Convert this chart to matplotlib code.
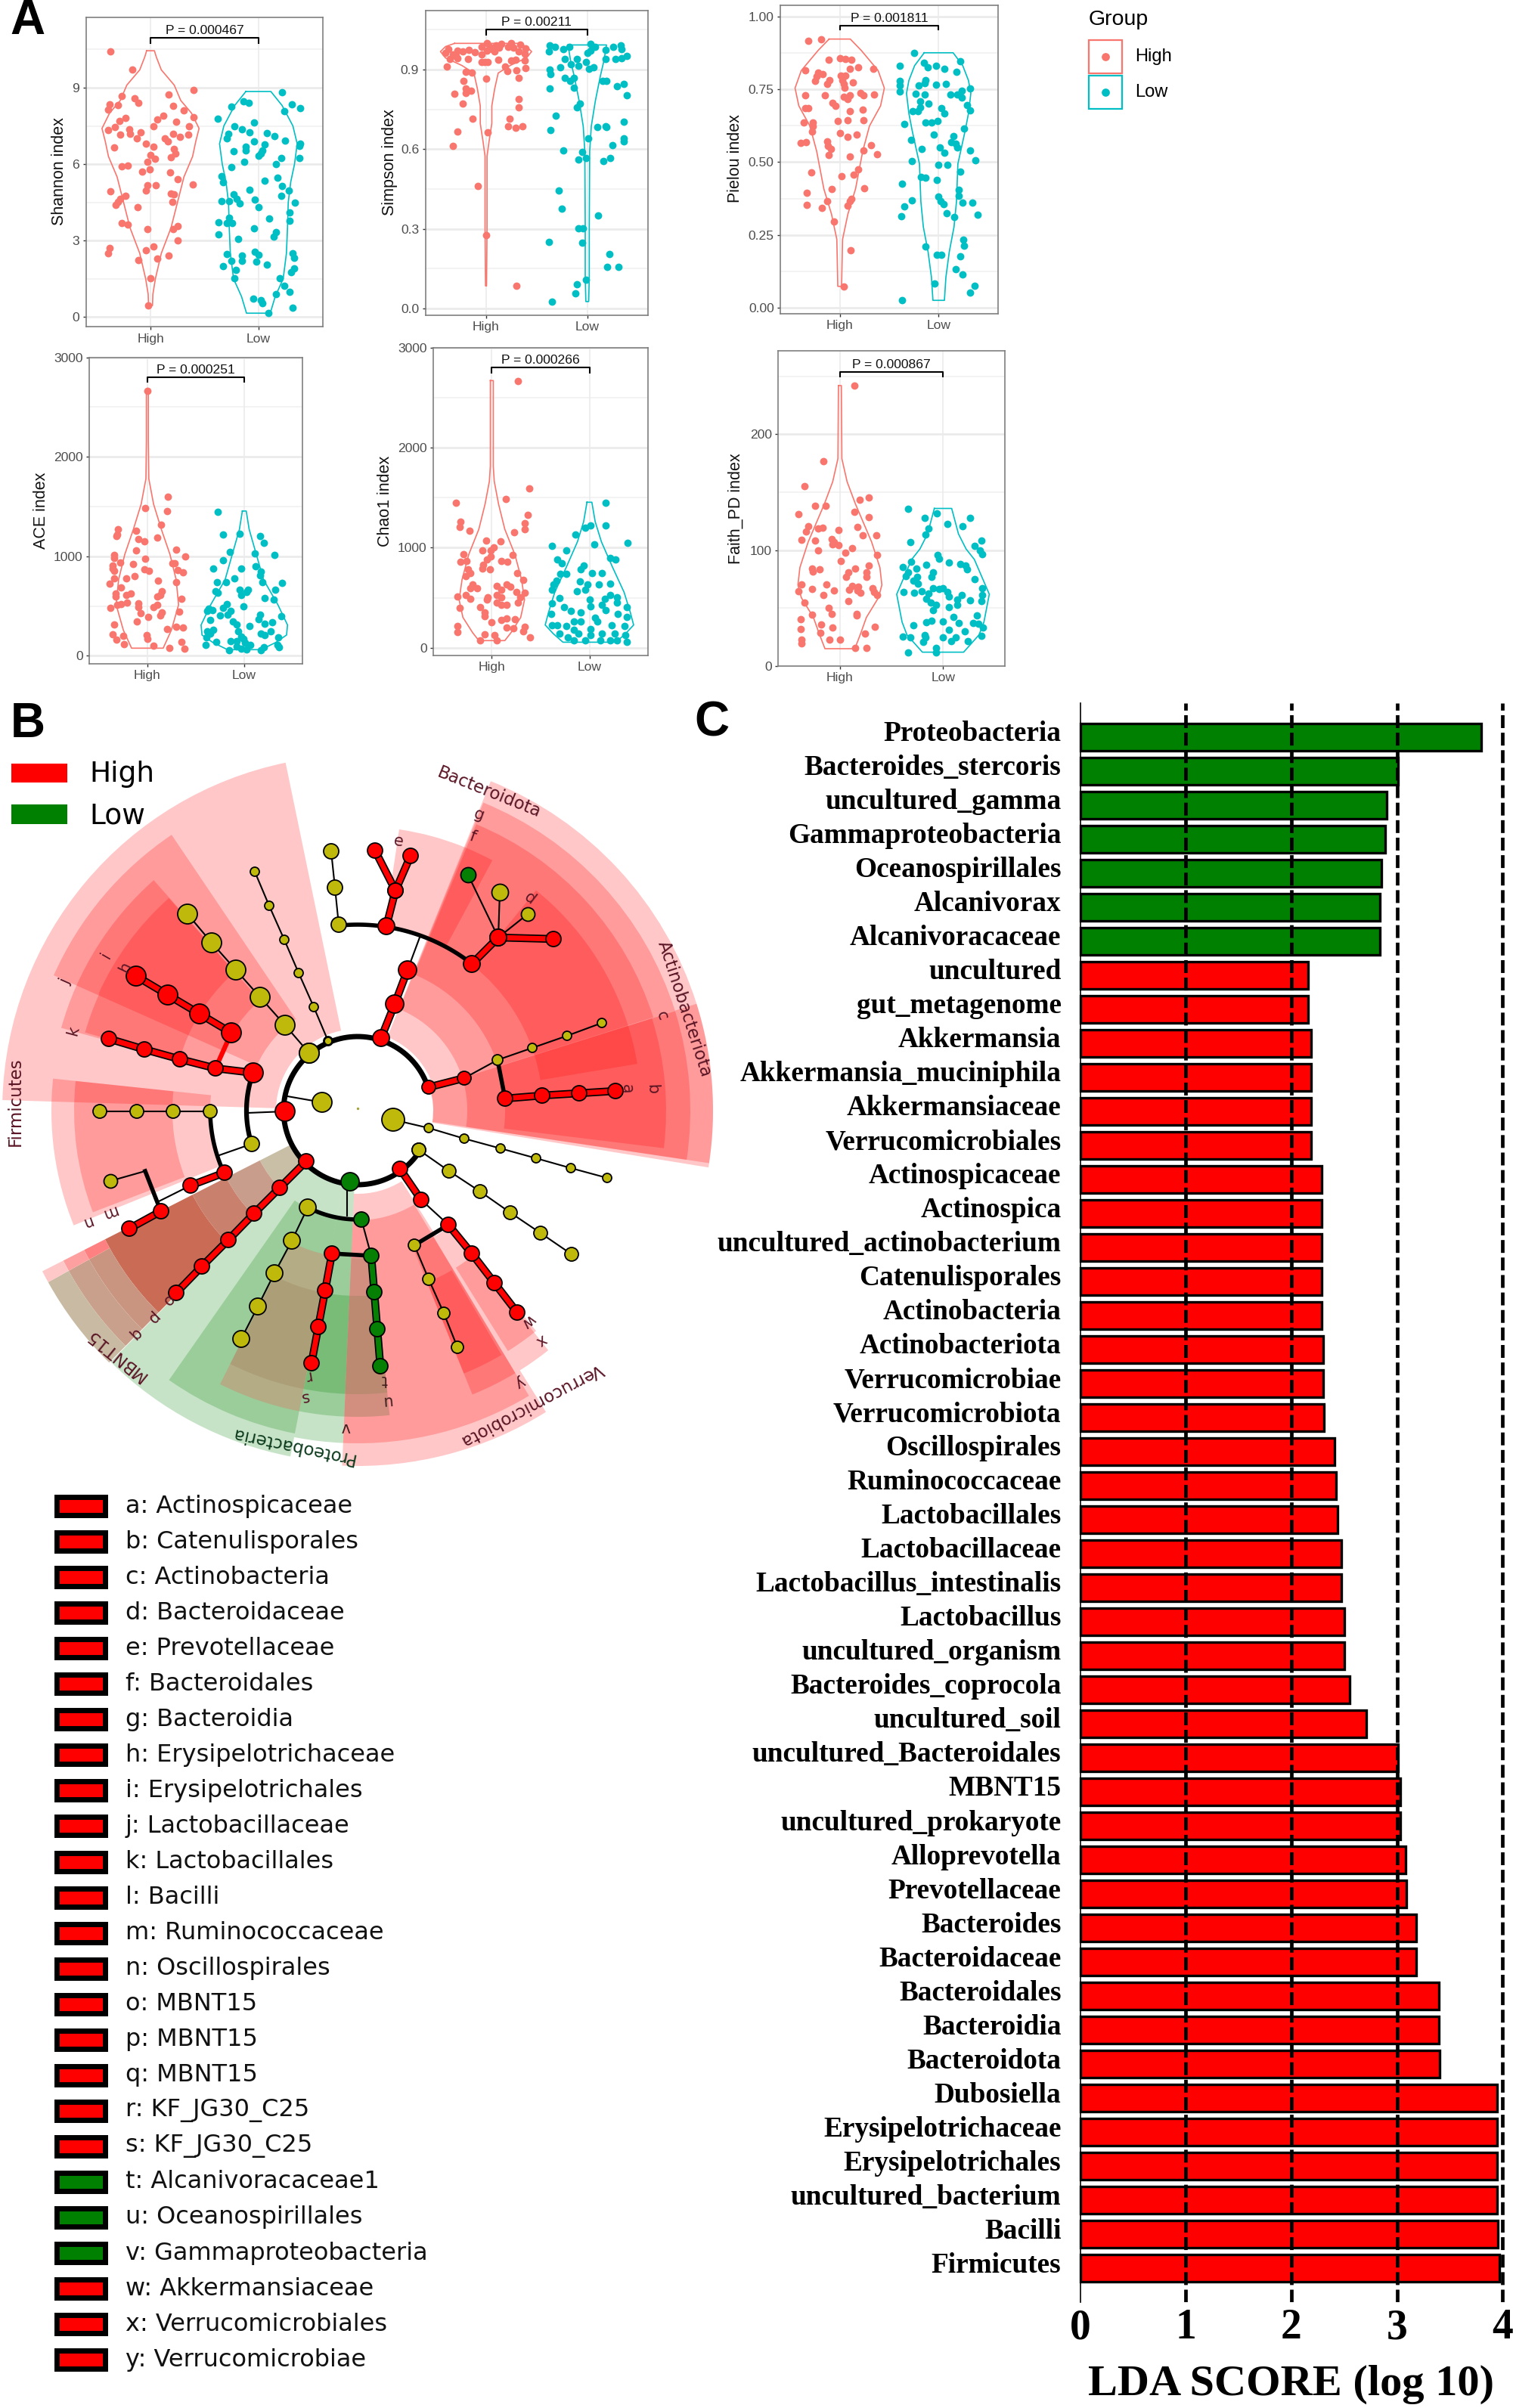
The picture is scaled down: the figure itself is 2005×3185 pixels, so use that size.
import numpy as np
import matplotlib
matplotlib.use('Agg')
import matplotlib.pyplot as plt
from matplotlib.patches import Wedge, Rectangle

W, H = 2005, 3185
C_HIGH, C_LOW = '#F8766D', '#00BFC4'

# ── A. alpha diversity points: x = jittered group position, y = index value ──
shannon_high_x = [.63,.83,1.40,.73,1.17,.85,.89,.62,.70,.61,1.21,1.31,1.40,1.12,.77,1.06,.71,1.24,1.03,1.36,.61,.67,.80,.91,.81,.72,1.21,1.35,1.27,.87,1.13,1.16,.96,1.03,.66,1.22,1.23,1.00,1.19,1.04,.97,.73,.79,.99,.92,1.18,1.25,1.39,1.05,.97,.96,.63,1.19,1.22,.77,.72,.70,.68,1.20,.88,.73,.79,.97,1.25,1.21,1.25,1.03,.96,.62,.61,1.17,1.06,.89,1.00,.98]
shannon_high_y = [10.42,9.70,8.92,8.68,8.72,8.57,8.41,8.36,8.33,8.14,8.28,8.11,7.84,7.90,7.82,7.76,7.70,7.67,7.50,7.50,7.35,7.45,7.38,7.24,7.20,7.17,7.20,7.16,7.07,7.00,7.02,6.88,6.80,6.69,6.67,6.59,6.43,6.36,6.26,6.21,6.08,5.92,5.93,5.79,5.70,5.68,5.40,5.21,5.18,5.18,4.96,4.93,4.85,4.82,4.77,4.63,4.53,4.41,4.53,4.31,3.69,3.64,3.45,3.56,3.44,3.00,2.78,2.61,2.70,2.51,2.42,2.28,2.22,1.51,.45]
shannon_low_x = [2.22,1.86,1.91,1.75,2.31,2.39,2.24,1.62,1.96,1.78,1.85,1.92,1.72,2.08,2.15,1.71,1.96,2.25,2.39,2.06,1.88,2.38,1.77,1.88,2.04,2.02,2.00,2.21,2.38,1.87,2.16,1.75,1.66,1.67,2.06,2.18,2.22,1.92,2.28,1.77,2.21,1.80,1.66,1.73,1.97,1.83,2.34,2.00,2.29,2.10,1.73,2.29,1.63,1.76,1.71,1.96,1.63,2.16,2.14,1.81,1.71,1.97,2.00,1.85,2.32,2.33,1.75,1.85,1.98,2.08,1.67,2.33,1.79,2.30,1.78,2.20,2.24,2.29,2.16,1.95,2.02,2.04,2.32,2.09]
shannon_low_y = [8.83,8.46,8.41,8.27,8.34,8.19,8.08,7.79,7.63,7.50,7.38,7.25,7.20,7.23,7.10,7.02,6.88,6.92,6.80,6.76,6.69,6.71,6.51,6.53,6.53,6.41,6.33,6.23,6.24,6.09,6.01,5.87,5.54,5.30,5.34,5.47,5.15,5.00,4.96,4.83,4.75,4.65,4.55,4.55,4.60,4.45,4.49,4.31,4.10,3.87,3.89,3.77,3.71,3.69,3.69,3.47,3.23,3.32,3.16,3.06,2.48,2.57,2.45,2.42,2.50,2.32,2.21,2.19,2.16,2.06,2.01,1.90,1.86,1.75,1.53,1.53,1.24,1.00,.91,.72,.67,.54,.37,.15]

simpson_high_x = [1.01,1.15,1.25,1.34,1.10,1.04,.96,.83,.72,.63,.60,.67,.70,.77,.89,1.01,1.06,1.13,1.22,1.27,1.39,1.32,1.38,.64,.72,.82,.96,1.02,1.12,1.25,1.29,1.38,.96,1.08,.61,1.19,.99,1.39,1.30,.80,.86,1.21,1.32,1.00,.78,.80,.85,.80,.69,1.32,.77,1.32,1.23,.87,1.22,1.29,1.36,.72,1.02,.67,.92,1.00,1.30]
simpson_high_y = [.999,.996,.999,.993,.991,.987,.987,.975,.972,.977,.963,.958,.952,.968,.966,.972,.977,.982,.987,.982,.980,.968,.960,.939,.942,.939,.930,.928,.938,.934,.936,.934,.958,.968,.912,.913,.930,.906,.898,.892,.890,.895,.870,.865,.857,.828,.821,.811,.808,.789,.771,.758,.716,.714,.688,.680,.686,.667,.664,.613,.462,.275,.085]
simpson_low_x = [1.63,1.68,1.62,1.76,1.82,2.03,2.08,2.26,2.33,2.34,2.18,2.00,2.03,2.39,2.34,2.28,2.18,1.78,1.90,1.99,1.84,1.91,2.06,2.02,1.73,1.63,1.64,1.78,1.87,1.83,2.15,2.19,2.36,2.29,1.63,1.87,2.39,1.93,1.90,1.69,2.36,2.18,2.10,2.19,1.64,2.01,2.36,2.36,2.25,1.76,1.95,1.99,1.91,2.23,2.16,1.72,1.75,2.11,1.91,1.96,1.62,1.95,2.22,2.20,2.31,1.99,1.90,1.88,1.65]
simpson_low_y = [.991,.987,.968,.977,.987,.996,.987,.987,.991,.977,.975,.963,.972,.952,.942,.939,.939,.939,.939,.930,.920,.915,.908,.904,.908,.901,.882,.868,.868,.858,.857,.858,.847,.838,.830,.833,.803,.773,.757,.726,.705,.688,.683,.683,.672,.642,.640,.629,.616,.595,.589,.567,.560,.566,.556,.445,.376,.349,.303,.302,.250,.248,.205,.157,.157,.107,.092,.058,.027]

pielou_high_x = [.68,.81,.89,1.00,1.06,1.12,1.19,1.34,.65,1.10,.78,.83,.77,.75,.90,.87,1.01,1.06,1.03,1.13,1.04,1.05,1.21,1.24,1.35,.65,.85,1.04,1.10,1.08,.93,.96,.65,.68,1.10,1.23,.64,.73,.98,1.08,1.24,.73,.72,1.00,1.17,1.08,.87,.61,.66,.88,.91,1.32,1.24,.89,1.38,1.10,.71,1.19,1.14,1.02,.92,1.25,.67,1.12,1.10,.87,.67,1.08,.82,.94,1.11,1.04]
pielou_high_y = [.916,.922,.850,.855,.853,.851,.825,.820,.814,.820,.806,.801,.793,.778,.781,.769,.797,.797,.780,.773,.767,.755,.738,.729,.733,.729,.729,.723,.728,.717,.704,.693,.685,.684,.676,.679,.637,.635,.640,.644,.643,.624,.605,.600,.594,.586,.572,.566,.568,.555,.546,.557,.540,.525,.526,.518,.466,.474,.458,.453,.408,.411,.395,.373,.365,.365,.353,.352,.343,.297,.198,.074]
pielou_low_x = [1.75,2.22,1.85,1.61,1.89,1.97,2.06,2.18,1.61,1.87,1.86,1.80,1.97,2.07,1.61,1.61,2.32,2.23,1.77,1.86,2.12,2.19,2.23,1.81,1.90,2.29,2.03,1.81,1.74,1.79,2.32,2.06,1.87,1.93,1.99,1.65,2.26,1.95,2.15,1.72,2.13,2.17,2.19,2.01,1.83,2.32,2.06,2.37,1.73,2.00,2.09,2.22,1.82,1.87,1.98,1.63,2.20,2.20,2.00,2.02,2.05,1.73,2.24,2.34,1.65,2.08,2.39,1.62,2.16,2.25,2.26,1.87,1.98,2.03,2.22,2.17,2.24,1.96,2.36,2.32,1.63]
pielou_low_y = [.875,.847,.840,.830,.825,.830,.820,.810,.778,.781,.771,.762,.765,.767,.762,.743,.752,.745,.735,.732,.733,.731,.721,.708,.700,.696,.685,.689,.676,.676,.678,.666,.635,.637,.641,.631,.614,.595,.589,.576,.568,.564,.551,.550,.546,.540,.532,.507,.503,.490,.491,.468,.449,.447,.440,.425,.404,.385,.382,.365,.356,.368,.362,.360,.347,.326,.320,.315,.313,.233,.213,.211,.181,.183,.177,.134,.116,.083,.077,.053,.027]

ace_high_x = [1.00,1.21,.98,1.20,1.14,.70,.88,.69,.68,1.10,.91,.97,.88,1.30,.66,.66,1.39,.98,.72,1.28,1.26,.85,.64,.64,.66,.97,1.02,1.31,1.37,.78,.87,.66,1.11,.61,1.30,.73,1.15,.67,.83,.78,.67,1.13,1.10,1.35,.73,.79,.69,.91,.91,1.10,1.06,.62,1.33,1.15,.93,1.13,1.01,.89,.66,1.20,1.30,1.37,.64,.75,.99,.68,1.00,.76,1.06,1.35,1.23,1.38]
ace_high_y = [2663,1596,1487,1452,1320,1272,1254,1221,1201,1188,1171,1150,1062,1067,1016,981,998,978,935,933,930,925,905,879,854,872,856,862,839,778,803,778,755,727,740,689,646,626,626,613,595,613,593,575,519,532,512,525,492,512,492,479,446,436,426,403,393,342,314,266,291,284,215,200,208,162,170,119,101,137,76,73]
ace_low_x = [1.73,1.78,1.95,2.16,2.20,1.85,2.11,2.31,1.78,1.68,1.97,2.12,2.17,1.90,2.16,1.81,1.72,2.19,2.39,2.32,1.70,1.73,1.95,2.04,2.02,1.97,2.21,2.30,1.99,1.63,1.67,1.82,1.78,1.86,1.62,1.75,1.83,2.16,2.38,1.65,1.88,1.92,2.15,2.21,2.29,2.05,1.62,1.68,1.65,1.94,2.27,2.17,2.21,1.61,1.97,1.86,1.71,1.92,1.99,2.01,2.06,2.35,1.60,2.34,2.20,2.36,1.84,1.97,2.02,2.17,1.92]
ace_low_y = [1447,1216,1224,1201,1133,1044,1026,1011,963,879,879,902,846,778,808,740,740,740,735,664,651,631,664,664,639,613,583,563,499,474,461,517,479,449,449,403,410,410,398,360,347,314,365,322,334,296,246,258,220,246,246,220,208,182,195,144,137,144,170,132,111,188,111,106,86,86,56,68,61,56,94]

chao_high_x = [1.27,1.38,.63,1.14,1.37,1.34,.68,.67,1.34,.77,1.23,1.09,.94,1.02,.90,.99,.71,1.21,.99,.95,.68,.74,1.10,1.16,.91,.90,.98,.76,.78,1.26,.73,1.32,.80,1.05,1.15,1.19,.78,.85,1.10,1.25,1.34,1.05,.65,.73,.96,1.10,1.29,.78,.95,1.05,1.27,1.15,.88,.67,.93,1.10,.93,1.15,1.24,1.10,1.00,.65,1.15,1.34,1.22,.65,1.32,.93,1.03,1.39,.88,1.05]
chao_high_y = [2665,1596,1452,1487,1326,1248,1261,1210,1185,1170,1152,1066,1071,1003,976,971,935,928,913,882,857,870,865,862,832,794,787,781,744,744,718,681,630,618,635,610,592,592,580,555,547,529,512,529,504,504,504,492,479,454,454,429,408,396,353,429,315,290,285,277,257,214,202,209,194,159,164,134,126,101,76,76]
chao_low_x = [2.17,2.17,2.01,1.96,1.86,2.39,1.62,2.05,1.76,1.67,2.21,2.27,1.72,1.94,1.91,1.70,1.76,2.03,2.13,1.90,1.66,1.63,2.21,2.10,1.98,1.96,1.62,1.87,2.21,2.00,2.16,2.28,1.69,1.62,2.28,2.01,2.13,2.38,1.74,2.17,2.29,1.61,1.81,1.91,2.06,2.38,1.62,1.67,1.84,1.91,2.08,2.23,2.36,1.76,1.84,2.01,1.69,1.89,2.13,2.26,2.37,1.78,2.01,1.84,1.96,2.11,2.28,2.38,2.21]
chao_low_y = [1450,1223,1223,1197,1134,1046,1016,1034,971,882,895,882,845,819,781,736,736,744,744,660,668,635,643,635,635,580,580,567,529,479,492,504,499,446,454,416,429,403,403,378,340,340,366,353,303,308,227,227,265,265,265,227,214,214,176,189,139,139,139,139,126,101,126,76,76,76,76,55,76]

faith_high_x = [1.14,.84,.66,1.28,1.19,.86,.76,.60,1.14,1.28,.69,.83,.79,.67,.99,1.17,1.22,1.35,.63,.76,.92,.94,.93,.99,1.12,.79,1.05,1.36,1.01,1.28,.73,.80,.74,1.15,1.08,1.26,1.06,1.26,.63,.87,.73,1.12,1.18,1.32,.60,.94,1.09,1.17,1.33,.84,1.20,1.36,.66,1.08,.89,.92,1.16,1.16,.73,.62,.82,.93,.62,1.34,.81,1.24,.90,1.00,.63,.63,1.15,1.26]
faith_high_y = [241.7,176.5,155.4,145.4,143.7,138.3,138,130.9,132.8,128.5,120.9,119.1,118.5,116.3,117.6,119.8,112.6,112.6,108.7,108,109.4,107.2,105,104.6,102,99.8,98,96.1,90.9,86.5,84.4,83.7,81.5,84.4,80.7,81.1,77.2,76.7,70.2,70.2,66.3,69.1,68.5,67,64.8,65.4,65.9,65.4,63.7,61.1,63.3,61.1,54.6,55.9,50,44.8,45.2,43.5,44.1,40.2,35.9,33.3,32,33.9,28.5,28.3,23,23,23,19.6,15.9,15.4]
faith_low_x = [1.66,1.94,1.82,2.26,2.04,2.19,1.86,1.83,2.37,1.68,2.31,2.36,2.38,1.95,1.96,2.06,1.69,1.84,2.17,2.22,1.61,1.74,2.23,1.66,1.90,1.64,1.75,1.89,2.31,1.71,1.76,1.90,1.96,2.00,2.38,1.62,1.79,1.72,1.86,2.04,2.06,2.18,2.38,1.84,2.14,2.26,2.37,1.88,1.93,2.14,2.06,1.90,2.33,2.10,1.89,1.84,2.00,2.15,2.29,2.34,1.71,2.39,2.06,2.21,1.82,1.61,1.68,1.83,2.00,2.12,2.37,1.81,2.08,2.24,1.93,1.66,1.93]
faith_low_y = [135.4,131.5,128,127.6,122.8,120.7,118.5,113.3,108,106.7,103.9,99.6,96.3,95.7,92.4,89.4,89.8,87.6,88.3,87,85.4,84.4,83.3,81.1,80.7,77.8,76.7,76.7,75,73.5,71.3,67,66.3,67,67,64.1,64.6,63,62.6,63.7,59.8,61.1,61.1,58.3,57.2,56.7,56.1,55,52.8,52.8,50.7,48,43.7,42.4,39.3,37.6,38.7,37.2,37.2,36.5,35.4,33.3,31.5,30,26.7,25.2,25,24.6,25,25,26.1,20.7,21.3,21.3,15.9,12,12]

# violin outlines: level and half width in group units
shannon_high_vy = [10.45,10.2,9.7,9.1,8.5,8.0,7.4,6.9,6.3,5.5,4.5,3.5,2.5,1.5,.9,.45]
shannon_high_vw = [.036,.054,.10,.22,.28,.38,.45,.42,.39,.31,.25,.19,.10,.045,.022,.018]
shannon_low_vy = [8.85,8.3,7.5,6.8,6.0,5.3,4.5,3.5,2.5,1.5,.8,.15]
shannon_low_vw = [.116,.22,.32,.36,.335,.30,.277,.27,.26,.23,.156,.11]
simpson_high_vy = [.999,.987,.968,.944,.916,.887,.829,.763,.697,.630,.574,.308,.085]
simpson_high_vw = [.31,.40,.45,.40,.24,.12,.086,.057,.057,.03,.01,.01,.005]
simpson_low_vy = [.993,.934,.877,.782,.687,.592,.307,.118,.026]
simpson_low_vw = [.19,.165,.13,.08,.04,.024,.02,.02,.014]
pielou_high_vy = [.922,.883,.814,.754,.693,.624,.538,.408,.322,.235,.074]
pielou_high_vw = [.107,.218,.388,.451,.413,.301,.233,.160,.083,.029,.019]
pielou_low_vy = [.875,.831,.780,.736,.667,.607,.494,.365,.278,.192,.105,.026]
pielou_low_vw = [.146,.243,.301,.325,.301,.267,.194,.180,.155,.107,.073,.058]
ace_high_vy = [2663,2159,1779,1525,1272,1019,765,512,258,76]
ace_high_vw = [.01,.01,.015,.064,.144,.233,.297,.322,.248,.163]
ace_low_vy = [1455,1272,1019,765,512,309,208,132,61]
ace_low_vw = [.02,.05,.124,.198,.347,.446,.436,.322,.173]
chao_high_vy = [2672,1815,1664,1437,1185,933,681,479,303,151,71]
chao_high_vw = [.015,.015,.025,.069,.133,.236,.305,.335,.296,.197,.133]
chao_low_vy = [1455,1261,1059,807,555,353,227,139,55]
chao_low_vw = [.025,.059,.123,.236,.355,.419,.453,.369,.271]
faith_high_vy = [242,179,159,140,107,85,70,59,42,28,15]
faith_high_vw = [.014,.019,.07,.15,.308,.388,.407,.374,.257,.201,.145]
faith_low_vy = [136,114,101,92,62,38,27,20,12]
faith_low_vw = [.084,.15,.224,.304,.449,.397,.35,.28,.2]

panels = [
    ('Shannon index', 'P = 0.000467', (113.5, 23.3, 427.3, 432.3), (-.386, 11.75), [0, 3, 6, 9], ['0', '3', '6', '9'],
     [1.5, 4.5, 7.5, 10.5], (10.96, 10.74), (78, 227),
     shannon_high_x, shannon_high_y, shannon_low_x, shannon_low_y, shannon_high_vy, shannon_high_vw, shannon_low_vy, shannon_low_vw),
    ('Simpson index', 'P = 0.00211', (562.5, 14, 857, 416.7), (-.0248, 1.1225), [0, .3, .6, .9], ['0.0', '0.3', '0.6', '0.9'],
     [.15, .45, .75, 1.05], (1.05, 1.031), (515, 215),
     simpson_high_x, simpson_high_y, simpson_low_x, simpson_low_y, simpson_high_vy, simpson_high_vw, simpson_low_vy, simpson_low_vw),
    ('Pielou index', 'P = 0.001811', (1032, 7.3, 1320, 415), (-.02, 1.037), [0, .25, .5, .75, 1], ['0.00', '0.25', '0.50', '0.75', '1.00'],
     [.125, .375, .625, .875], (.968, .954), (973, 210),
     pielou_high_x, pielou_high_y, pielou_low_x, pielou_low_y, pielou_high_vy, pielou_high_vw, pielou_low_vy, pielou_low_vw),
    ('ACE index', 'P = 0.000251', (118, 472.7, 400, 877.7), (-79, 3000), [0, 1000, 2000, 3000], ['0', '1000', '2000', '3000'],
     [500, 1500, 2500], (2800, 2754), (55, 675),
     ace_high_x, ace_high_y, ace_low_x, ace_low_y, ace_high_vy, ace_high_vw, ace_low_vy, ace_low_vw),
    ('Chao1 index', 'P = 0.000266', (573, 460, 857, 867), (-78, 3000), [0, 1000, 2000, 3000], ['0', '1000', '2000', '3000'],
     [500, 1500, 2500], (2803, 2753), (510, 663),
     chao_high_x, chao_high_y, chao_low_x, chao_low_y, chao_high_vy, chao_high_vw, chao_low_vy, chao_low_vw),
    ('Faith_PD index', 'P = 0.000867', (1029, 464, 1329, 881), (0, 272), [0, 100, 200], ['0', '100', '200'],
     [50, 150, 250], (254, 250), (973, 673),
     faith_high_x, faith_high_y, faith_low_x, faith_low_y, faith_high_vy, faith_high_vw, faith_low_vy, faith_low_vw),
]

# ── C. LDA bars ──────────────────────────────────────────────────────────
lda_names = ['Proteobacteria', 'Bacteroides_stercoris', 'uncultured_gamma', 'Gammaproteobacteria', 'Oceanospirillales',
             'Alcanivorax', 'Alcanivoracaceae', 'uncultured', 'gut_metagenome', 'Akkermansia', 'Akkermansia_muciniphila',
             'Akkermansiaceae', 'Verrucomicrobiales', 'Actinospicaceae', 'Actinospica', 'uncultured_actinobacterium',
             'Catenulisporales', 'Actinobacteria', 'Actinobacteriota', 'Verrucomicrobiae', 'Verrucomicrobiota',
             'Oscillospirales', 'Ruminococcaceae', 'Lactobacillales', 'Lactobacillaceae', 'Lactobacillus_intestinalis',
             'Lactobacillus', 'uncultured_organism', 'Bacteroides_coprocola', 'uncultured_soil', 'uncultured_Bacteroidales',
             'MBNT15', 'uncultured_prokaryote', 'Alloprevotella', 'Prevotellaceae', 'Bacteroides', 'Bacteroidaceae',
             'Bacteroidales', 'Bacteroidia', 'Bacteroidota', 'Dubosiella', 'Erysipelotrichaceae', 'Erysipelotrichales',
             'uncultured_bacterium', 'Bacilli', 'Firmicutes']
lda_values = [3.80, 3.01, 2.90, 2.885, 2.855, 2.84, 2.84, 2.155, 2.155, 2.185, 2.185, 2.185, 2.185, 2.29, 2.29, 2.29, 2.29,
              2.29, 2.30, 2.30, 2.31, 2.41, 2.42, 2.44, 2.47, 2.47, 2.50, 2.50, 2.55, 2.71, 3.01, 3.03, 3.03, 3.08, 3.09,
              3.18, 3.18, 3.40, 3.40, 3.405, 3.945, 3.945, 3.945, 3.945, 3.955, 3.97]
lda_low_count = 7

# ── B. legend of the cladogram ───────────────────────────────────────────
clade_names = ['a: Actinospicaceae', 'b: Catenulisporales', 'c: Actinobacteria', 'd: Bacteroidaceae', 'e: Prevotellaceae',
               'f: Bacteroidales', 'g: Bacteroidia', 'h: Erysipelotrichaceae', 'i: Erysipelotrichales', 'j: Lactobacillaceae',
               'k: Lactobacillales', 'l: Bacilli', 'm: Ruminococcaceae', 'n: Oscillospirales', 'o: MBNT15', 'p: MBNT15',
               'q: MBNT15', 'r: KF_JG30_C25', 's: KF_JG30_C25', 't: Alcanivoracaceae1', 'u: Oceanospirillales',
               'v: Gammaproteobacteria', 'w: Akkermansiaceae', 'x: Verrucomicrobiales', 'y: Verrucomicrobiae']
clade_low = ['t', 'u', 'v']

RED, GRN, OLV = '#FF0000', '#058005', '#BFB90B'
PINK = (1, 0, 0, .22)
LGRN = (0, .5, 0, .22)
# shaded sectors: inner radius, outer radius, start angle, end angle, colour
sectors = [
    (108, 470, 101.7, 178.3, PINK), (146, 440, 124, 156, PINK), (195, 407, 131.5, 164.4, PINK),
    (245, 376, 131.6, 155.6, PINK), (245, 375, 155.6, 164, PINK),
    (105, 470, 17.5, 68, PINK), (145, 440, 17.5, 67.8, PINK), (195, 410, 17.5, 67.5, PINK), (245, 375, 18, 51, PINK),
    (245, 376, 68, 81.6, PINK), (245, 376, 61.7, 68, PINK),
    (100, 470, -9.2, 17.5, PINK), (100, 470, -8.5, 17.5, PINK), (145, 440, -8.5, 17.4, PINK), (195, 408, -7, 17.4, PINK),
    (245, 375, 9.5, 18, PINK),
    (110, 470, -92.5, -58, PINK), (145, 440, -92.5, -59, PINK), (195, 405, -58, -51.5, PINK), (245, 375, -58, -51, PINK),
    (195, 405, -68, -59, PINK), (245, 375, -68, -59.5, PINK),
    (195, 405, 174, 202, PINK), (245, 375, 174, 201, PINK),
    (100, 466, -134.5, -101, LGRN), (100, 440, -101, -92.5, LGRN), (145, 435, -125, -101, LGRN), (145, 405, -101, -92.5, LGRN),
    (245, 375, -101, -92.5, LGRN),
    (195, 405, -116.7, -101, '#B3AC85'), (245, 375, -116.7, -101, '#AC9F78'),
    (195, 405, -92.5, -84, '#D28F80'), (245, 375, -92.5, -84, '#BC8A70'),
    (100, 145, -153, -134.6, '#C9BEA6'), (145, 195, -153, -134.6, '#C99D8C'), (195, 245, -153, -134.6, '#C9806C'),
    (245, 375, -153, -134.6, '#C96B55'), (375, 406, -151, -134.6, '#C99580'), (406, 437, -151, -134.6, '#C9A08C'),
    (437, 468, -151, -134.6, '#C9BBA3'),
    (375, 406, -153, -151, '#FF8080'), (406, 437, -153, -151, '#FFA0A0'), (437, 468, -153, -151, '#FFC8C8'),
]

# tree arcs: radius, start angle, end angle, width
tree_arcs = [(98, 18, 327, 5), (147, 160, 197, 4.5), (195, 180, 205, 4), (246, 52, 96, 4), (144, 243, 272, 4)]
# thin links between two points of the tree
thin_x = [(-93, -47), (-145, -96), (-140, -183), (-14, -14), (5, 18), (66, 82), (84, 120), (-221, -265), (141, 185)]
thin_y = [(19, 11), (-3, -1), (-44, -59), (-96, -139), (-144, -192), (186, 229), (-118, -151), (-99, -121), (43, 67)]
# thick black links
thick_x = [(-34, 18), (185, 195), (120, 75), (-265, -281)]
thick_y = [(-189, -192), (67, 16), (-151, -178), (-121, -80)]
# chains of nodes: x, y, node radius, colour, edge type
chains = [
    ([47, 94, 141, 189, 236, 282, 330], [-12, -23, -37, -50, -63, -76, -89], [15, 6, 6, 6, 6, 6, 6], OLV, 'thin'),
    ([81, 121, 162, 202, 242, 283], [-52, -80, -107, -135, -162, -190], [9, 9, 9, 9, 9, 9], OLV, 'thin'),
    ([56, 84], [-77, -118], [10, 10], RED, 'red'),
    ([120, 151, 181, 211], [-151, -189, -228, -267], [10, 10, 10, 10], RED, 'red'),
    ([75, 94, 114, 132], [-178, -223, -268, -313], [8, 8, 8, 8], OLV, 'thin'),
    ([-66, -87, -110, -132, -154], [-128, -172, -215, -259, -302], [11, 11, 11, 11, 11], OLV, 'thin'),
    ([-34, -43, -52, -61], [-189, -238, -286, -334], [10, 10, 10, 10], RED, 'red'),
    ([18, 22, 26, 30], [-192, -240, -289, -338], [10, 10, 10, 10], GRN, 'green'),
    ([-68, -103, -137, -171, -206, -240], [-67, -102, -136, -171, -206, -241], [10, 10, 10, 10, 10, 10], RED, 'red'),
    ([-195, -244, -292, -341], [-1, -1, -1, -1], [9, 9, 9, 9], OLV, 'thin'),
    ([-176, -221], [-82, -99], [10, 10], RED, 'red'),
    ([-260, -302], [-133, -156], [10, 10], RED, 'red'),
    ([-281, -327], [-80, -93], [9, 9], OLV, 'thin'),
    ([-138, -188, -235, -282, -329], [50, 56, 68, 81, 95], [13, 10, 10, 10, 10], RED, 'red'),
    ([-167, -209, -251, -293], [103, 128, 153, 178], [13, 13, 13, 13], RED, 'red'),
    ([-64, -96, -129, -161, -193, -225], [76, 113, 150, 186, 222, 260], [13, 13, 13, 13, 13, 13], OLV, 'thin'),
    ([-39, -58, -78, -97, -117, -136], [92, 137, 182, 226, 271, 316], [6, 6, 6, 6, 6, 6], OLV, 'thin'),
    ([31, 49, 66], [96, 141, 186], [11, 12, 12], RED, 'red'),
    ([38, 50, 23], [244, 291, 344], [11, 10, 10], RED, 'red'),
    ([50, 70], [291, 337], [10, 10], RED, 'red'),
    ([-25, -30, -35], [246, 295, 343], [10, 10, 10], OLV, 'thin'),
    ([151, 186, 259], [194, 229, 227], [11, 11, 10], RED, 'red'),
    ([186, 146], [229, 312], [11, 10], GRN, 'thin'),
    ([186, 188], [229, 289], [11, 11], OLV, 'thin'),
    ([186, 225], [229, 260], [11, 9], OLV, 'thin'),
    ([94, 141], [31, 43], [9, 9], RED, 'red'),
    ([185, 231, 277, 323], [67, 83, 99, 116], [7, 6, 6, 6], OLV, 'thin'),
    ([195, 244, 293, 341], [16, 20, 23, 26], [10, 10, 10, 10], RED, 'red'),
]
# single nodes that sit on the arcs
single_x = [-47, -96, -10, 5, 186, -140, -39, -64, 81]
single_y = [11, -1, -94, -144, 229, -44, 92, 76, -52]
single_r = [13, 13, 12, 10, 11, 10, 5, 13, 9]
single_c = [OLV, RED, GRN, GRN, RED, OLV, OLV, OLV, OLV]

MAROON = '#5A1525'
clade_text = [
    ('Firmicutes', -453, 12, 90, MAROON, 16.5), ('Bacteroidota', 174, 421, -22, MAROON, 16.5),
    ('Actinobacteriota', 432, 134, -72, MAROON, 16.5), ('Verrucomicrobiota', 230, -389, 208, MAROON, 16.5),
    ('Proteobacteria', -86, -443, 168, '#0C3A1C', 16.5), ('MBNT15', -320, -323, 141, MAROON, 16.5),
    ('a', 356, 29, -88, MAROON, 15), ('b', 389, 29, -88, MAROON, 15), ('c', 402, 125, -72, MAROON, 15),
    ('d', 228, 281, -38, MAROON, 15), ('e', 54, 356, -8, MAROON, 15), ('f', 152, 362, -20, MAROON, 15),
    ('g', 161, 391, -20, MAROON, 15), ('h', -307, 190, 64, MAROON, 15), ('i', -333, 206, 60, MAROON, 15),
    ('j', -387, 171, 66, MAROON, 15), ('k', -376, 105, 75, MAROON, 15), ('m', -328, -134, 200, MAROON, 15),
    ('n', -358, -147, 200, MAROON, 15), ('o', -251, -251, 225, MAROON, 15), ('p', -271, -274, 225, MAROON, 15),
    ('q', -295, -296, 225, MAROON, 15), ('r', -66, -351, 190, MAROON, 15), ('s', -71, -379, 190, MAROON, 15),
    ('t', 35, -356, 180, '#402020', 15), ('u', 38, -384, 185, '#402020', 15), ('v', -16, -419, 180, '#402020', 15),
    ('w', 225, -278, 220, MAROON, 15), ('x', 243, -303, 215, MAROON, 15), ('y', 214, -359, 210, MAROON, 15),
]


def box_axes(fig, l, t, r, b):
    return fig.add_axes([l / W, 1 - b / H, (r - l) / W, (b - t) / H])


fig = plt.figure(figsize=(W / 100, H / 100), dpi=100, facecolor='white')

# ── panel A ──────────────────────────────────────────────────────────────
for (ylab, ptxt, box, ylim, yt, ytl, ymin, brk, lab_xy,
     hx, hy, lx, ly, hvy, hvw, lvy, lvw) in panels:
    ax = box_axes(fig, *box)
    ax.set_xlim(.4, 2.6)
    ax.set_ylim(*ylim)
    for v in yt:
        ax.axhline(v, color='#EBEBEB', lw=2, zorder=1)
    for v in ymin:
        ax.axhline(v, color='#F1F1F1', lw=1.2, zorder=1)
    for v in (1, 2):
        ax.axvline(v, color='#EBEBEB', lw=1.2, zorder=1)
    for c, col, px, py, vy, vw in ((1, C_HIGH, hx, hy, hvy, hvw), (2, C_LOW, lx, ly, lvy, lvw)):
        vy, vw = np.array(vy), np.array(vw)
        ax.plot(np.r_[c - vw, (c + vw)[::-1], c - vw[0]], np.r_[vy, vy[::-1], vy[0]], color=col, lw=1.2, zorder=2)
        ax.scatter(px, py, s=50, color=col, linewidths=0, zorder=3, clip_on=False)
    ax.plot([1, 1, 2, 2], [brk[1], brk[0], brk[0], brk[1]], color='black', lw=1.5, zorder=4)
    ax.annotate(ptxt, (1.5, brk[0]), xytext=(0, 1.5), textcoords='offset points', ha='center', va='bottom',
                fontsize=12.6, family='Liberation Sans', color='#111111')
    ax.set_xticks([1, 2], ['High', 'Low'])
    ax.set_yticks(yt, ytl)
    ax.tick_params(length=3, width=1, color='#333333', labelcolor='#4D4D4D', labelsize=12.6, pad=3)
    for t in ax.get_xticklabels() + ax.get_yticklabels():
        t.set_family('Liberation Sans')
    for s in ax.spines.values():
        s.set_color('#7F7F7F')
        s.set_linewidth(1.2)
    fig.text(lab_xy[0] / W, 1 - lab_xy[1] / H, ylab, rotation=90, ha='center', va='center',
             fontsize=15.5, family='Liberation Sans', color='#111111')

# ── panel B cladogram, axes units are pixels round the centre ─────────────
CX, CY = 473, 1469
ax = box_axes(fig, 0, 930, 960, 1960)
ax.set_xlim(-CX, 960 - CX)
ax.set_ylim(CY - 1960, CY - 930)
ax.axis('off')
for r0, r1, a0, a1, col in sectors:
    ax.add_patch(Wedge((0, 0), r1, a0, a1, width=r1 - r0, fc=col, ec='none', zorder=1))
for r, a0, a1, lw in tree_arcs:
    th = np.radians(np.linspace(a0, a1, 120))
    ax.plot(r * np.cos(th), r * np.sin(th), color='black', lw=lw, zorder=3, solid_capstyle='butt')
for xs, ys in zip(thin_x, thin_y):
    ax.plot(xs, ys, color='black', lw=1.5, zorder=3)
for xs, ys in zip(thick_x, thick_y):
    ax.plot(xs, ys, color='black', lw=4, zorder=3)
ax.plot([-188, -167], [56, 103], color=RED, lw=4.5, zorder=3)
for xs, ys, rs, col, kind in chains:
    if kind == 'thin':
        ax.plot(xs, ys, color='black', lw=1.5, zorder=3)
    else:
        ax.plot(xs, ys, color='black', lw=7.5, zorder=3, solid_capstyle='butt')
        ax.plot(xs, ys, color=RED if kind == 'red' else GRN, lw=5, zorder=3.1, solid_capstyle='butt')
    keep = 1 if (len(xs) == 2 and kind == 'thin') else 0
    ax.scatter(xs[keep:], ys[keep:], s=[(2 * q * .72) ** 2 for q in rs[keep:]],
               color=col, edgecolors='black', linewidths=1.3, zorder=4)
ax.scatter(single_x, single_y, s=[(2 * q * .72) ** 2 for q in single_r], color=single_c,
           edgecolors='black', linewidths=1.3, zorder=4)
ax.scatter([0], [3], s=6, color='#A5A23C', linewidths=0, zorder=4)
for txt, x, y, rot, col, size in clade_text:
    ax.text(x, y, txt, rotation=rot, rotation_mode='anchor', ha='center', va='center', fontsize=size,
            color=col, family='DejaVu Sans', zorder=5)

# ── panel C ──────────────────────────────────────────────────────────────
ax = box_axes(fig, 1428.5, 930, W, 3045)
ax.set_xlim(0, (W - 1428.5) / 139.7)
ax.set_ylim(45.99, -.989)
ypos = np.arange(len(lda_values))
bar_cols = ['#008000'] * lda_low_count + ['#FF0000'] * (len(lda_values) - lda_low_count)
ax.barh(ypos, lda_values, height=.8, color=bar_cols, edgecolor='black', linewidth=2.4, zorder=2, clip_on=False)
for v in (1, 2, 3, 4):
    ax.axvline(v, color='black', lw=3.4, dashes=(3.6, 1.3), zorder=3)
ax.set_xticks([0, 1, 2, 3, 4], ['0', '1', '2', '3', '4'])
ax.set_yticks([])
for name, yy in zip(lda_names, ypos):
    ax.annotate(name, (0, yy), xytext=(-18, 3), textcoords='offset points', ha='right', va='center',
                family='Liberation Serif', fontweight='bold', fontsize=26.8)
ax.tick_params(axis='x', length=0, pad=6)
for t in ax.get_xticklabels():
    t.set(family='Liberation Serif', fontweight='bold', fontsize=40)
for s in ('top', 'right', 'bottom'):
    ax.spines[s].set_visible(False)
ax.spines['left'].set_linewidth(1.2)

# ── overlay in figure pixels: legends and panel letters ──────────────────
ov = fig.add_axes([0, 0, 1, 1], zorder=10)
ov.set_xlim(0, W)
ov.set_ylim(H, 0)
ov.axis('off')
for txt, x, y in (('A', 36, 28), ('B', 37, 958), ('C', 941, 956)):
    ov.text(x, y, txt, ha='center', va='center', fontsize=46, fontweight='bold', family='Liberation Sans')

ov.text(1440, 26, 'Group', ha='left', va='center', fontsize=20.5, family='Liberation Sans')
for name, col, top in (('High', C_HIGH, 53), ('Low', C_LOW, 100)):
    ov.add_patch(Rectangle((1440, top), 44, 44, fc='white', ec=col, lw=1.6))
    ov.scatter([1462], [top + 22], s=60, color=col, linewidths=0)
    ov.text(1501, top + 22, name, ha='left', va='center', fontsize=17, family='Liberation Sans')

for name, col, y0, y1 in (('High', RED, 1010, 1035), ('Low', '#008000', 1064, 1090)):
    ov.add_patch(Rectangle((15, y0), 74, y1 - y0, fc=col, ec='none'))
    ov.text(118, (y0 + y1) / 2 + 2, name, ha='left', va='center', fontsize=27, family='DejaVu Sans')

for i, name in enumerate(clade_names):
    y = 1992 + 47.05 * i
    col = '#008000' if name[0] in clade_low else RED
    ov.add_patch(Rectangle((75, y - 12), 64, 24, fc=col, ec='black', lw=5))
    ov.text(166, y, name, ha='left', va='center', fontsize=23, family='DejaVu Sans', color='#111111')

ov.text(1708, 3154, 'LDA SCORE (log 10)', ha='center', va='center', fontsize=42, fontweight='bold',
        family='Liberation Serif')

fig.savefig('out.png', dpi=100, facecolor='white')
